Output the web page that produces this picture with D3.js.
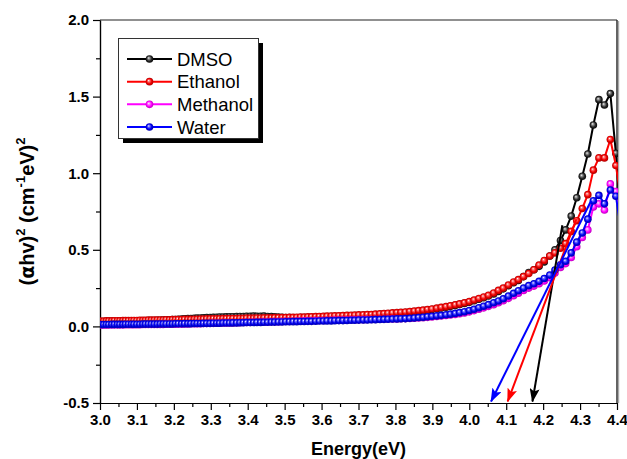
<!DOCTYPE html>
<html><head><meta charset="utf-8">
<script src="https://cdn.jsdelivr.net/npm/d3@7"></script>
<style>body{margin:0;background:#fff} svg{display:block}</style>
</head><body>
<svg id="chart" width="627" height="459"></svg>
<script>
// ---- DATA ----
const energy = [
3.002,3.010,3.017,3.024,3.032,3.039,3.047,3.054,3.062,3.069,
3.077,3.085,3.092,3.100,3.108,3.116,3.123,3.131,3.139,3.147,
3.155,3.163,3.171,3.179,3.188,3.196,3.204,3.212,3.221,3.229,
3.238,3.246,3.255,3.263,3.272,3.280,3.289,3.298,3.307,3.316,
3.324,3.333,3.342,3.351,3.360,3.370,3.379,3.388,3.397,3.407,
3.416,3.425,3.435,3.444,3.454,3.464,3.473,3.483,3.493,3.503,
3.513,3.523,3.533,3.543,3.553,3.563,3.573,3.584,3.594,3.605,
3.615,3.626,3.636,3.647,3.658,3.669,3.680,3.690,3.701,3.713,
3.724,3.735,3.746,3.758,3.769,3.780,3.792,3.804,3.815,3.827,
3.839,3.851,3.863,3.875,3.887,3.899,3.912,3.924,3.937,3.949,
3.962,3.974,3.987,4.000,4.013,4.026,4.039,4.052,4.066,4.079,
4.092,4.106,4.120,4.133,4.147,4.161,4.175,4.189,4.203,4.218,
4.232,4.247,4.261,4.276,4.291,4.306,4.321,4.336,4.351,4.366,
4.382,4.397,4.413];

const dmso = [
0.030,0.030,0.031,0.031,0.032,0.032,0.032,0.033,0.033,0.034,
0.034,0.035,0.035,0.036,0.036,0.037,0.037,0.038,0.038,0.039,
0.040,0.040,0.041,0.042,0.043,0.044,0.045,0.047,0.048,0.050,
0.051,0.052,0.053,0.054,0.055,0.056,0.057,0.058,0.059,0.060,
0.061,0.061,0.062,0.063,0.063,0.064,0.065,0.065,0.066,0.066,
0.067,0.066,0.066,0.067,0.065,0.064,0.063,0.061,0.060,0.058,
0.057,0.056,0.056,0.057,0.057,0.058,0.059,0.060,0.061,0.062,
0.063,0.064,0.065,0.066,0.067,0.068,0.069,0.070,0.071,0.072,
0.073,0.074,0.076,0.078,0.080,0.082,0.084,0.086,0.088,0.090,
0.093,0.096,0.099,0.102,0.106,0.110,0.115,0.120,0.125,0.131,
0.137,0.143,0.150,0.158,0.167,0.177,0.187,0.198,0.212,0.228,
0.245,0.265,0.285,0.300,0.325,0.352,0.370,0.392,0.420,0.460,
0.500,0.560,0.630,0.720,0.840,0.980,1.125,1.315,1.480,1.445,
1.520,1.130,0.600];

const ethanol = [
0.035,0.035,0.036,0.036,0.036,0.037,0.037,0.037,0.038,0.038,
0.038,0.039,0.039,0.039,0.040,0.040,0.040,0.041,0.041,0.041,
0.042,0.042,0.042,0.043,0.043,0.044,0.044,0.045,0.045,0.046,
0.046,0.046,0.047,0.047,0.048,0.048,0.049,0.049,0.050,0.050,
0.050,0.051,0.051,0.052,0.052,0.052,0.053,0.053,0.054,0.054,
0.054,0.055,0.055,0.056,0.056,0.056,0.057,0.057,0.058,0.058,
0.059,0.059,0.060,0.061,0.061,0.062,0.063,0.064,0.065,0.066,
0.067,0.068,0.069,0.070,0.071,0.072,0.073,0.074,0.075,0.076,
0.077,0.078,0.080,0.082,0.084,0.086,0.088,0.090,0.092,0.094,
0.097,0.100,0.103,0.106,0.110,0.114,0.119,0.124,0.129,0.135,
0.141,0.147,0.154,0.162,0.172,0.182,0.192,0.203,0.218,0.235,
0.250,0.270,0.290,0.305,0.325,0.345,0.370,0.400,0.430,0.460,
0.480,0.510,0.540,0.620,0.690,0.770,0.860,1.020,1.100,1.100,
1.220,1.050,0.800];

const methanol = [
0.009,0.009,0.009,0.009,0.010,0.010,0.010,0.010,0.010,0.011,
0.011,0.011,0.011,0.011,0.011,0.012,0.012,0.012,0.012,0.012,
0.013,0.013,0.013,0.014,0.014,0.014,0.015,0.015,0.015,0.016,
0.016,0.017,0.017,0.018,0.018,0.019,0.019,0.020,0.020,0.021,
0.021,0.022,0.022,0.023,0.023,0.024,0.024,0.025,0.026,0.026,
0.027,0.027,0.028,0.029,0.029,0.030,0.031,0.031,0.032,0.033,
0.033,0.034,0.035,0.035,0.036,0.037,0.037,0.038,0.039,0.039,
0.040,0.040,0.041,0.041,0.042,0.042,0.043,0.043,0.044,0.044,
0.045,0.045,0.046,0.047,0.047,0.048,0.049,0.049,0.050,0.051,
0.052,0.053,0.055,0.057,0.059,0.062,0.065,0.068,0.071,0.074,
0.078,0.083,0.088,0.095,0.103,0.112,0.121,0.131,0.142,0.154,
0.167,0.183,0.200,0.217,0.234,0.250,0.263,0.278,0.296,0.318,
0.348,0.385,0.410,0.450,0.520,0.580,0.630,0.780,0.800,0.760,
0.930,0.880,0.620];

const water = [
0.012,0.012,0.012,0.012,0.013,0.013,0.013,0.013,0.013,0.014,
0.014,0.014,0.014,0.014,0.014,0.015,0.015,0.015,0.015,0.015,
0.015,0.016,0.016,0.016,0.016,0.016,0.017,0.017,0.017,0.018,
0.018,0.018,0.019,0.019,0.019,0.020,0.020,0.020,0.021,0.021,
0.021,0.022,0.022,0.022,0.023,0.023,0.024,0.024,0.025,0.025,
0.025,0.026,0.026,0.027,0.027,0.028,0.028,0.029,0.029,0.030,
0.030,0.031,0.031,0.032,0.032,0.033,0.033,0.034,0.035,0.035,
0.036,0.036,0.037,0.038,0.038,0.039,0.040,0.040,0.041,0.042,
0.042,0.043,0.044,0.045,0.046,0.047,0.048,0.049,0.050,0.051,
0.053,0.055,0.058,0.060,0.063,0.066,0.069,0.072,0.076,0.080,
0.085,0.090,0.096,0.104,0.112,0.122,0.132,0.142,0.154,0.166,
0.180,0.198,0.216,0.233,0.250,0.266,0.278,0.294,0.313,0.335,
0.368,0.402,0.425,0.480,0.550,0.610,0.700,0.820,0.855,0.800,
0.890,0.850,0.600];

const seriesNames = ["DMSO", "Ethanol", "Methanol", "Water"];
const seriesColors = ["#000000", "#ff0000", "#ff00ff", "#0000ff"];

// tangent (band-gap extrapolation) arrows: start and tip in data units
const tangentNames  = ["DMSO", "Ethanol", "Water"];
const tangentStartE = [4.252, 4.290, 4.330];
const tangentStartV = [0.66, 0.70, 0.82];
const tangentTipE   = [4.171, 4.104, 4.059];
const tangentTipV   = [-0.49, -0.49, -0.49];

const xTicks = [3.0,3.1,3.2,3.3,3.4,3.5,3.6,3.7,3.8,3.9,4.0,4.1,4.2,4.3,4.4];
const xTickLabels = ["3.0","3.1","3.2","3.3","3.4","3.5","3.6","3.7","3.8","3.9","4.0","4.1","4.2","4.3","4.4"];
const yTicks = [-0.5, 0.0, 0.5, 1.0, 1.5, 2.0];
const yTickLabels = ["-0.5","0.0","0.5","1.0","1.5","2.0"];

// ---- CHART ----
const svg = d3.select("#chart");
const L = 100, R = 617, T = 20, B = 403;
const x = d3.scaleLinear().domain([3.0, 4.4]).range([L, R]);
const y = d3.scaleLinear().domain([-0.5, 2.0]).range([B, T]);
const FONT = "'Liberation Sans', Arial, Helvetica, sans-serif";

const defs = svg.append("defs");
defs.append("clipPath").attr("id", "plotclip")
  .append("rect").attr("x", L).attr("y", T).attr("width", R - L + 1).attr("height", B - T);

const gradStops = {
  "#000000": ["#ffffff", "#9a9a9a", "#2a2a2a", "#000000"],
  "#ff0000": ["#ffffff", "#ff7a7a", "#f00000", "#a00000"],
  "#ff00ff": ["#ffffff", "#ff90ff", "#ff00ff", "#b000b0"],
  "#0000ff": ["#ffffff", "#7a7aff", "#0000f0", "#0000a0"]
};
seriesColors.forEach((c, k) => {
  const g = defs.append("radialGradient").attr("id", "grad" + k)
    .attr("cx", "50%").attr("cy", "50%").attr("r", "55%")
    .attr("fx", "38%").attr("fy", "35%");
  const s = gradStops[c];
  [[0, s[0]], [0.22, s[1]], [0.6, s[2]], [1, s[3]]].forEach(([o, col]) =>
    g.append("stop").attr("offset", o).attr("stop-color", col));
});

// arrow markers
seriesColors.forEach((c, k) => {
  defs.append("marker").attr("id", "arrow" + k)
    .attr("viewBox", "0 0 14 10").attr("refX", 13).attr("refY", 5)
    .attr("markerWidth", 14).attr("markerHeight", 10)
    .attr("markerUnits", "userSpaceOnUse").attr("orient", "auto")
    .append("path").attr("d", "M0,0 L14,5 L0,10 L3,5 Z").attr("fill", c);
});

// axes
const xAxis = d3.axisBottom(x).tickValues(xTicks)
  .tickFormat((d, i) => xTickLabels[i]).tickSize(7).tickSizeOuter(0).tickPadding(4);
const xMinor = d3.axisBottom(x).tickValues(d3.pairs(xTicks).map(p => (p[0] + p[1]) / 2))
  .tickFormat("").tickSize(4).tickSizeOuter(0);
const yAxis = d3.axisLeft(y).tickValues(yTicks)
  .tickFormat((d, i) => yTickLabels[i]).tickSize(7).tickSizeOuter(0).tickPadding(4);
const yMinor = d3.axisLeft(y).tickValues(d3.pairs(yTicks).map(p => (p[0] + p[1]) / 2))
  .tickFormat("").tickSize(4).tickSizeOuter(0);

function styleAxis(g) {
  g.selectAll("path.domain").attr("stroke", "#000").attr("stroke-width", 1.2);
  g.selectAll(".tick line").attr("stroke", "#000").attr("stroke-width", 1.2);
  g.selectAll(".tick text").attr("font-family", FONT).attr("font-weight", "bold")
    .attr("font-size", 15).attr("fill", "#000");
}
svg.append("g").attr("transform", `translate(0,${B})`).call(xMinor).call(styleAxis);
svg.append("g").attr("transform", `translate(0,${B})`).call(xAxis).call(styleAxis);
svg.append("g").attr("transform", `translate(${L},0)`).call(yMinor).call(styleAxis);
svg.append("g").attr("transform", `translate(${L},0)`).call(yAxis).call(styleAxis);

// frame top & right
svg.append("line").attr("x1", L).attr("x2", R).attr("y1", T).attr("y2", T)
  .attr("stroke", "#222").attr("stroke-width", 1.2);
svg.append("line").attr("x1", R + 1.6).attr("x2", R + 1.6).attr("y1", T + 1).attr("y2", B)
  .attr("stroke", "#aaa").attr("stroke-width", 1.2);
svg.append("line").attr("x1", R).attr("x2", R).attr("y1", T).attr("y2", B)
  .attr("stroke", "#222").attr("stroke-width", 1.4);

// series
const seriesValues = [dmso, ethanol, methanol, water];
const plot = svg.append("g").attr("clip-path", "url(#plotclip)");
const line = d3.line();
seriesValues.forEach((vals, k) => {
  const pts = energy.map((e, i) => [x(e), y(vals[i])]);
  plot.append("path").attr("d", line(pts)).attr("fill", "none")
    .attr("stroke", seriesColors[k]).attr("stroke-width", 2).attr("stroke-linejoin", "round");
  plot.append("g").selectAll("circle").data(pts).join("circle")
    .attr("cx", d => d[0]).attr("cy", d => d[1]).attr("r", 3.8)
    .attr("fill", `url(#grad${k})`);
});

// tangent arrows
tangentNames.forEach((n, j) => {
  const k = seriesNames.indexOf(n);
  svg.append("line")
    .attr("x1", x(tangentStartE[j])).attr("y1", y(tangentStartV[j]))
    .attr("x2", x(tangentTipE[j])).attr("y2", y(tangentTipV[j]))
    .attr("stroke", seriesColors[k]).attr("stroke-width", 2)
    .attr("marker-end", `url(#arrow${k})`);
});

// legend
const lg = svg.append("g");
lg.append("rect").attr("x", 123).attr("y", 43).attr("width", 140).attr("height", 100).attr("fill", "#000");
lg.append("rect").attr("x", 118.5).attr("y", 38.5).attr("width", 140).attr("height", 100)
  .attr("fill", "#fff").attr("stroke", "#333").attr("stroke-width", 1);
const rowY = d3.scalePoint().domain(seriesNames).range([59, 127]);
seriesNames.forEach((n, k) => {
  const yy = rowY(n);
  lg.append("line").attr("x1", 127).attr("x2", 172).attr("y1", yy).attr("y2", yy)
    .attr("stroke", seriesColors[k]).attr("stroke-width", 2);
  lg.append("circle").attr("cx", 149.5).attr("cy", yy).attr("r", 3.8).attr("fill", `url(#grad${k})`);
  lg.append("text").attr("x", 177).attr("y", yy).attr("dy", "0.36em")
    .attr("font-family", FONT).attr("font-size", 18.5).attr("fill", "#000").text(n);
});

// axis titles
svg.append("text").attr("x", (L + R) / 2).attr("y", 455).attr("text-anchor", "middle")
  .attr("font-family", FONT).attr("font-weight", "bold").attr("font-size", 18).text("Energy(eV)");

const yt = svg.append("text").attr("transform", `translate(34,${(T + B) / 2}) rotate(-90)`)
  .attr("text-anchor", "middle").attr("font-family", FONT).attr("font-weight", "bold").attr("font-size", 20);
yt.append("tspan").text("(");
yt.append("tspan").attr("font-family", "'DejaVu Sans', sans-serif").attr("font-size", 19).text("α");
yt.append("tspan").text("hv)");
yt.append("tspan").attr("dy", -9).attr("font-size", 13).text("2");
yt.append("tspan").attr("dy", 9).text("\u00a0(cm");
yt.append("tspan").attr("dy", -9).attr("font-size", 13).text("-1");
yt.append("tspan").attr("dy", 9).text("eV)");
yt.append("tspan").attr("dy", -9).attr("font-size", 13).text("2");
</script>
</body></html>
